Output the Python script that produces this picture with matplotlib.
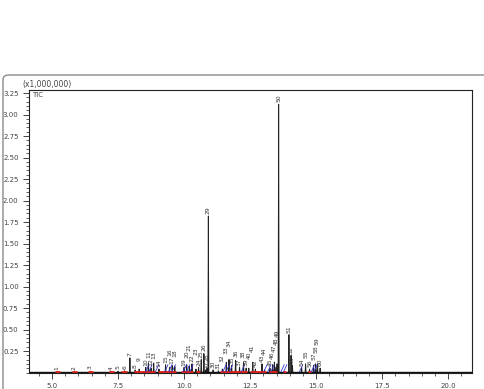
import matplotlib
matplotlib.use("Agg")
import matplotlib.pyplot as plt
from matplotlib.patches import FancyBboxPatch
from matplotlib.ticker import MultipleLocator, FormatStrFormatter

# peak table: retention time (min), height (x1,000,000), peak no.
rt = [5.20, 5.85, 6.45, 7.25, 7.50, 7.75, 7.95, 8.15, 8.30, 8.55,
      8.65, 8.75, 8.85, 9.05, 9.30, 9.45, 9.55, 9.65, 10.00, 10.10,
      10.20, 10.30, 10.45, 10.55, 10.65, 10.75, 10.82, 10.87, 10.92, 11.10,
      11.30, 11.45, 11.60, 11.70, 11.80, 11.95, 12.10, 12.25, 12.35, 12.45,
      12.60, 12.70, 12.95, 13.05, 13.25, 13.35, 13.42, 13.48, 13.52, 13.58,
      13.97, 14.05, 14.10, 14.45, 14.60, 14.75, 14.90, 14.98, 15.05, 15.15]
height = [0.012, 0.010, 0.015, 0.010, 0.015, 0.020, 0.17, 0.03, 0.04, 0.06,
          0.11, 0.05, 0.11, 0.04, 0.09, 0.06, 0.08, 0.07, 0.06, 0.09,
          0.07, 0.10, 0.04, 0.06, 0.15, 0.22, 0.03, 0.05, 1.82, 0.03,
          0.02, 0.04, 0.12, 0.15, 0.08, 0.14, 0.06, 0.12, 0.05, 0.05,
          0.12, 0.04, 0.10, 0.03, 0.05, 0.09, 0.12, 0.06, 0.10, 3.12,
          0.44, 0.20, 0.08, 0.06, 0.10, 0.04, 0.08, 0.10, 0.10, 0.05]
peak_no = list(range(1, len(rt) + 1))

# integration baselines (red) and peak start marks (blue)
red_spans = [(5.10, 5.30), (5.75, 5.95), (6.35, 6.55), (7.15, 7.35), (7.60, 7.85),
             (8.10, 8.90), (9.00, 9.70), (9.90, 10.35), (10.45, 10.60),
             (11.35, 12.40), (12.50, 13.10), (13.20, 13.50), (13.75, 13.85), (14.70, 14.80)]
blue_marks = [8.58, 8.70, 8.95, 9.30, 9.45, 9.58, 10.00, 10.12, 10.25,
              11.50, 11.62, 11.75, 12.20, 13.05, 13.20, 13.32, 13.70, 13.80, 14.40, 14.85, 14.95]

fig = plt.figure(figsize=(4.85, 3.89), dpi=100)
fig.patch.set_facecolor("white")

# outer rounded panel frame
frame = FancyBboxPatch((3 / 485, -0.05), 490 / 485, 1 - 75 / 389 + 0.05,
                       boxstyle="round,pad=0,rounding_size=0.012",
                       transform=fig.transFigure, fill=False, ec="#8a8a8a", lw=1.0)
fig.patches.append(frame)

ax = fig.add_axes([29 / 485, 1 - 372.5 / 389, (472 - 29) / 485, (372.5 - 90) / 389])

# chromatogram trace built from the peak table
hw = 0.018
xs, ys = [4.13], [0.0]
for r, h in zip(rt, height):
    xs += [r - hw, r, r + hw]
    ys += [0.0, h, 0.0]
xs.append(20.9)
ys.append(0.0)
ax.plot(xs, ys, color="#222222", lw=0.7)
ax.plot([4.13, 20.9], [0.004, 0.004], color="#111111", lw=1.0)

for a, b in red_spans:
    ax.plot([a, b], [0.006, 0.006], color="#e0201a", lw=2.0, solid_capstyle="butt")
for m in blue_marks:
    ax.plot([m - 0.03, m + 0.09], [0.01, 0.09], color="#3535d0", lw=0.6)

# peak numbers, stacked upward where neighbours would collide
lab_h = 0.085
placed = []
for r, h, n in zip(rt, height, peak_no):
    y = h + 0.02
    for _ in range(len(placed) + 1):
        clash = [py for px, py in placed
                 if abs(px - r) < 0.17 and py - lab_h + 1e-6 < y < py + lab_h - 1e-6]
        if not clash:
            break
        y = max(clash) + lab_h
    placed.append((r, y))
    ax.text(r, y, str(n), rotation=90, ha="center", va="bottom",
            fontsize=4.3, color="#333333")

ax.set_xlim(4.13, 20.9)
ax.set_ylim(0, 3.285)
ax.xaxis.set_major_locator(MultipleLocator(2.5))
ax.xaxis.set_minor_locator(MultipleLocator(0.5))
ax.yaxis.set_minor_locator(MultipleLocator(0.05))
ax.xaxis.set_major_formatter(FormatStrFormatter("%.1f"))
ax.yaxis.set_major_formatter(FormatStrFormatter("%.2f"))
ax.set_yticks([v * 0.25 for v in range(1, 14)])
ax.tick_params(axis="both", which="major", labelsize=5, colors="#444444", length=4, width=0.7)
ax.tick_params(axis="both", which="minor", length=2, width=0.6, colors="#444444")
for s in ax.spines.values():
    s.set_linewidth(0.8)
    s.set_color("#222222")

fig.text(22 / 485, 1 - 85 / 389, "(x1,000,000)", fontsize=5.5, color="#444444", va="center")
ax.text(0.006, 0.993, "TIC", transform=ax.transAxes, fontsize=5, color="#444444",
        va="top", ha="left")

fig.savefig("out.png", dpi=100)
